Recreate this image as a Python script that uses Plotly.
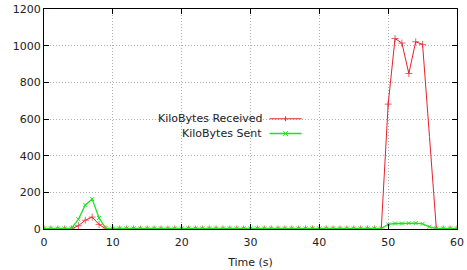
import plotly.graph_objects as go

time_s = list(range(0, 61))
kb_received = ([0, 0, 0, 0, 0, 18, 48, 65, 25, 0]
               + [0] * 40
               + [681, 1039, 1014, 848, 1021, 1007, 505]
               + [0, 0, 0, 0])
kb_sent = ([3, 3, 3, 3, 4, 53, 131, 163, 60, 4]
           + [3] * 40
           + [25, 30, 30, 31, 32, 28, 12]
           + [3, 3, 3, 3])

x_ticks = [0, 10, 20, 30, 40, 50, 60]
y_ticks = [0, 200, 400, 600, 800, 1000, 1200]

RED = "#e8202a"
GREEN = "#22e022"
FONT = "DejaVu Sans"

# the reference shows no marker on the steep final falling edge
n = len(kb_received)
red_sizes = [0 if (0 < i < n - 1 and kb_received[i - 1] > 900 and kb_received[i + 1] == 0
                   and kb_received[i] > 0) else 5
             for i in range(n)]

fig = go.Figure()
fig.add_trace(go.Scatter(x=time_s, y=kb_received, mode="lines+markers",
                         line=dict(color=RED, width=1),
                         marker=dict(symbol="cross-thin", size=red_sizes, color=RED,
                                     line=dict(color=RED, width=1)),
                         showlegend=False))
fig.add_trace(go.Scatter(x=time_s, y=kb_sent, mode="lines+markers",
                         line=dict(color=GREEN, width=1.3),
                         marker=dict(symbol="x-thin", size=4, color=GREEN,
                                     line=dict(color=GREEN, width=1)),
                         showlegend=False))

axis_common = dict(showline=True, linecolor="black", linewidth=1, mirror="ticks",
                   ticks="inside", ticklen=5, tickcolor="black", tickwidth=1,
                   showgrid=True, gridcolor="#b0b0b0", griddash="1px,2px", gridwidth=1,
                   zeroline=False, ticklabeloverflow="allow",
                   tickfont=dict(family=FONT, size=11, color="#222"))

fig.update_xaxes(range=[0, 60], tickvals=x_ticks, ticklabelstandoff=3, **axis_common,
                 title=dict(text="Time (s)", font=dict(family=FONT, size=11, color="#222"),
                            standoff=10))
fig.update_yaxes(range=[0, 1200], tickvals=y_ticks, **axis_common)

# gnuplot-style key: text on left, sample on right
legend_items = [("KiloBytes Received", RED, 1, 0.501, "cross-thin"),
                ("KiloBytes Sent", GREEN, 1.5, 0.434, "x-thin")]
for label, col, w, yp, sym in legend_items:
    fig.add_annotation(x=0.533, y=yp, xref="paper", yref="paper", text=label,
                       showarrow=False, xanchor="right", yanchor="middle",
                       font=dict(family=FONT, size=11, color="#222"))
    fig.add_shape(type="line", xref="paper", yref="paper", x0=0.546, x1=0.624,
                  y0=yp, y1=yp, line=dict(color=col, width=w))
    d = 0.006
    dy = 0.011
    if sym == "cross-thin":
        fig.add_shape(type="line", xref="paper", yref="paper", x0=0.585, x1=0.585,
                      y0=yp - dy, y1=yp + dy, line=dict(color=col, width=1))
    else:
        fig.add_shape(type="line", xref="paper", yref="paper", x0=0.585 - d, x1=0.585 + d,
                      y0=yp - dy, y1=yp + dy, line=dict(color=col, width=1))
        fig.add_shape(type="line", xref="paper", yref="paper", x0=0.585 - d, x1=0.585 + d,
                      y0=yp + dy, y1=yp - dy, line=dict(color=col, width=1))

fig.update_layout(width=467, height=270, margin=dict(l=44, r=8, t=3, b=41),
                  plot_bgcolor="white", paper_bgcolor="white", showlegend=False)

fig.write_html("out.html")
